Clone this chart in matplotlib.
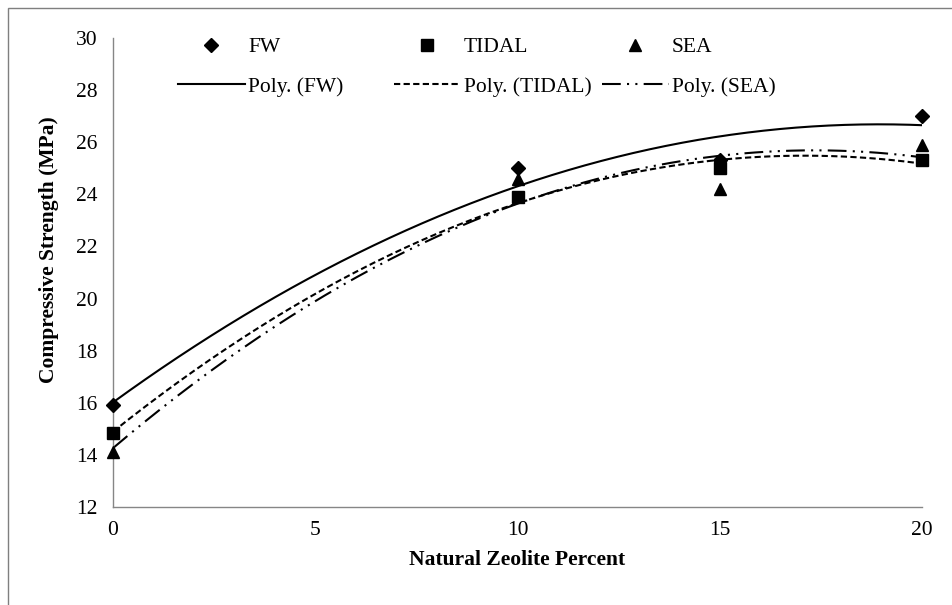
import numpy as np
import matplotlib.pyplot as plt
from matplotlib.patches import Rectangle

# data
zeolite = [0, 10, 15, 20]
fw = [15.9, 25.0, 25.3, 27.0]
tidal = [14.85, 23.9, 25.0, 25.3]
sea = [14.1, 24.6, 24.2, 25.9]

plt.rcParams['font.family'] = ['Liberation Serif', 'DejaVu Serif']
FS = 15.5

W, H = 953, 605
fig = plt.figure(figsize=(W / 100, H / 100), dpi=100)
ax = fig.add_axes([113 / W, 1 - 507 / H, 809 / W, 469 / H])

# outer chart border (Excel chart area)
fig.patches.append(Rectangle((8 / W, -0.1), 1.2, 1.1 - 8 / H, transform=fig.transFigure,
                             fill=False, edgecolor='#7f7f7f', lw=1.0))

xs = np.linspace(0, 20, 200)

series = [
    ('FW', fw, 'D', 7, '-'),
    ('TIDAL', tidal, 's', 8.5, (0, (3, 1.6))),
    ('SEA', sea, '^', 8.5, (0, (9, 3, 1, 3, 1, 3))),
]

groups = []
for name, vals, mk, ms, ls in series:
    h1, = ax.plot(zeolite, vals, linestyle='none', marker=mk, markersize=ms,
                  color='black', label=name, zorder=3, clip_on=False)
    coef = np.polyfit(zeolite, vals, 2)
    h2, = ax.plot(xs, np.polyval(coef, xs), linestyle=ls, color='black', lw=1.5,
                  label='Poly. (%s)' % name, zorder=2)
    groups.append([h1, h2])

ax.set_xlim(0, 20)
ax.set_ylim(12, 30)
ax.set_xticks([0, 5, 10, 15, 20])
ax.set_yticks(range(12, 31, 2))
ax.tick_params(length=0, labelsize=FS)
ax.tick_params(axis='x', pad=10)
ax.tick_params(axis='y', pad=11)

for s in ['top', 'right']:
    ax.spines[s].set_visible(False)
for s in ['left', 'bottom']:
    ax.spines[s].set_color('#868686')
    ax.spines[s].set_linewidth(1.0)

ax.set_xlabel('Natural Zeolite Percent', fontsize=FS, fontweight='bold', labelpad=7)
ax.set_ylabel('Compressive Strength (MPa)', fontsize=FS, fontweight='bold')
ax.yaxis.set_label_coords(-0.067, 0.548)

# legend: one column per series, Excel-like spacing
col_left = [178, 394, 602]
for x0, hs in zip(col_left, groups):
    fig.legend(handles=hs, loc='upper left', bbox_to_anchor=(x0 / W, 1 - 37 / H),
               frameon=False, fontsize=FS, handlelength=3.1, handletextpad=0.15,
               borderpad=0, borderaxespad=0, labelspacing=0.9)

plt.savefig('out.png', dpi=100)
